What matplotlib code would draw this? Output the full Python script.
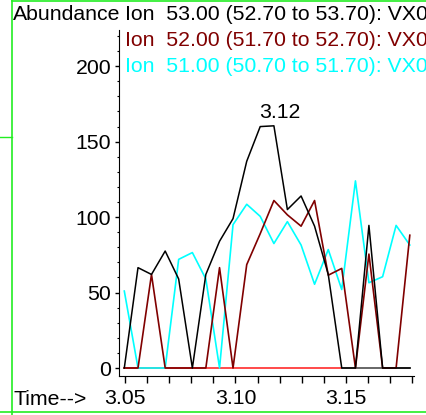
#!/usr/bin/env python3
"""
plot.py
Extracted ion chromatogram (ions 51, 52, 53) around 3.05-3.18 min.
"""

import matplotlib
matplotlib.use("Agg")
import matplotlib.pyplot as plt
from matplotlib.lines import Line2D
from matplotlib.ticker import MultipleLocator

plt.rcParams["font.family"] = ["Liberation Sans", "DejaVu Sans"]

# scan times (min)
times = [3.0497, 3.0559, 3.0620, 3.0682, 3.0743, 3.0805, 3.0866, 3.0928,
         3.0989, 3.1051, 3.1112, 3.1174, 3.1235, 3.1297, 3.1358, 3.1420,
         3.1481, 3.1543, 3.1604, 3.1666, 3.1727, 3.1789]

ion53 = [0, 66.5, 62, 77.5, 59, 0, 62, 84, 99, 137, 160, 160.5, 105, 114,
         94, 62, 0, 0, 94.5, 0, 0, 0]
ion52 = [0, 0, 62, 0, 0, 0, 0, 66.5, 0, 68.5, 89, 111, 101.5, 94, 111,
         61.5, 66, 0, 75.5, 0, 0, 88]
ion51 = [51, 0, 0, 0, 72, 76.5, 59, 0, 95, 108.5, 100.5, 82.5, 97, 81.5,
         55.5, 78.5, 52, 124, 56.5, 60.5, 94.5, 81.5]

legend_labels = [
    "Ion  53.00 (52.70 to 53.70): VX0",
    "Ion  52.00 (51.70 to 52.70): VX0",
    "Ion  51.00 (50.70 to 51.70): VX0",
]
colors = ["black", "#800000", "#00ffff"]

peak_time = 3.12
peak_label = "3.12"

FS = 15.3


def main():
    fig = plt.figure(figsize=(4.26, 4.15), dpi=100)
    ax = fig.add_axes([119 / 426, 39 / 415, 295 / 426, 346 / 415])

    # baseline
    ax.plot(times[:17], [0] * 17, color="#ff4a4a", lw=1.4, zorder=1)
    ax.plot(times[16:], [0] * len(times[16:]), color="#666666", lw=1.4, zorder=1)

    ax.plot(times, ion51, color=colors[2], lw=1.2, zorder=2)
    ax.plot(times, ion52, color=colors[1], lw=1.2, zorder=3)
    ax.plot(times, ion53, color=colors[0], lw=1.1, zorder=4)

    ax.text(peak_time, 169, peak_label, ha="center", va="center", fontsize=FS)

    ax.set_xlim(3.0473, 3.1808)
    ax.set_ylim(-5.3, 224)
    ax.spines["top"].set_visible(False)
    ax.spines["right"].set_visible(False)

    ax.xaxis.set_major_locator(MultipleLocator(0.05))
    ax.xaxis.set_minor_locator(MultipleLocator(0.01))
    ax.set_xticks([3.05, 3.10, 3.15])
    ax.set_xticklabels(["3.05", "3.10", "3.15"])
    ax.yaxis.set_major_locator(MultipleLocator(50))
    ax.yaxis.set_minor_locator(MultipleLocator(10))
    ax.tick_params(axis="x", which="both", direction="out", length=5, width=1,
                   labelsize=FS, pad=4)
    ax.tick_params(axis="y", which="major", direction="out", length=3, width=1,
                   labelsize=FS, pad=2.5)
    ax.tick_params(axis="y", which="minor", direction="out", length=1.5, width=0.8)

    fig.text(13 / 426, 1 - 15 / 415, "Abundance", ha="left", va="center",
             fontsize=FS)
    fig.text(13 / 426, 1 - 399 / 415, "Time-->", ha="left", va="center",
             fontsize=FS)
    for k, (lab, c) in enumerate(zip(legend_labels, colors)):
        fig.text(125 / 426, 1 - (15 + 25.5 * k) / 415, lab, ha="left",
                 va="center", fontsize=FS, color=c)

    # green frame of the screenshot
    g = "#22ee22"
    fig.add_artist(Line2D([11.5 / 426, 11.5 / 426], [0, 1], color=g, lw=1.2,
                          transform=fig.transFigure))
    fig.add_artist(Line2D([11.5 / 426, 1], [1 - 1 / 415, 1 - 1 / 415], color=g,
                          lw=1.2, transform=fig.transFigure))
    fig.add_artist(Line2D([0, 1], [1 - 411.5 / 415, 1 - 411.5 / 415], color=g,
                          lw=1.2, transform=fig.transFigure))
    fig.add_artist(Line2D([0, 11.5 / 426], [1 - 137 / 415, 1 - 137 / 415],
                          color=g, lw=1.0, transform=fig.transFigure))

    fig.savefig("out.png", dpi=100)
    plt.close(fig)


if __name__ == "__main__":
    main()
